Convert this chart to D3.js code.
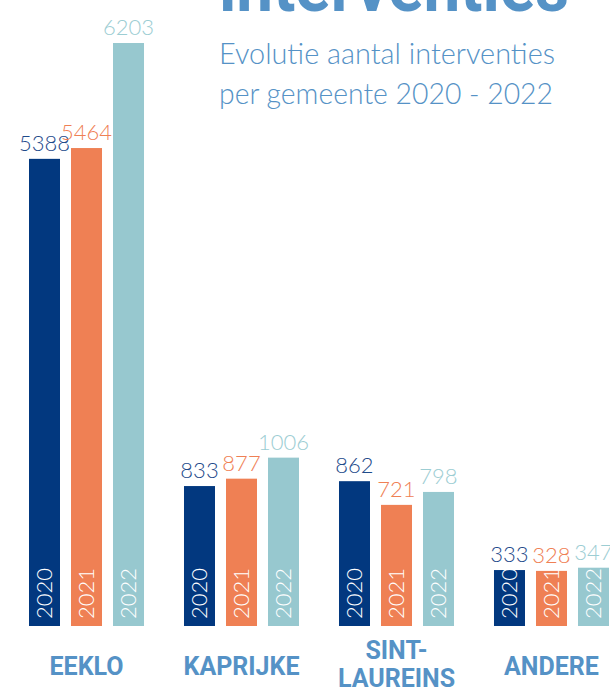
<!DOCTYPE html>
<html>
<head>
<meta charset="utf-8">
<script src="https://cdnjs.cloudflare.com/ajax/libs/d3/7.8.5/d3.min.js"></script>
<style>
  html, body { margin: 0; padding: 0; background: #ffffff; }
  svg { display: block; }
</style>
</head>
<body>
<div id="graph1"></div>
<script>
// evolutie interventies per gemeente, grouped bars
const graph_1_width = 610, graph_1_height = 690;

// data
const gemeenten = ["EEKLO", "KAPRIJKE", "SINT-LAUREINS", "ANDERE"];
const jaren = ["2020", "2021", "2022"];
const waarden2020 = [5388, 833, 862, 333];
const waarden2021 = [5464, 877, 721, 328];
const waarden2022 = [6203, 1006, 798, 347];

// label lines under each group (SINT-LAUREINS breaks in two)
const labelLijnen = [["EEKLO"], ["KAPRIJKE"], ["SINT-", "LAUREINS"], ["ANDERE"]];

const barColors = ["#02387f", "#ef8054", "#97c8cf"];
const valueColors = ["#1f4b8b", "#ef8054", "#9ccdd3"];
const blue = "#5592c6";

// build rows for d3
let data = gemeenten.map(function(g, i) {
    return {
        name: g,
        values: [waarden2020[i], waarden2021[i], waarden2022[i]]
    };
});

let svg = d3.select("#graph1")
    .append("svg")
    .attr("width", graph_1_width)
    .attr("height", graph_1_height);

// big title, cut off at the top of the picture
svg.append("text")
    .attr("x", 219)
    .attr("y", 11)
    .attr("textLength", 350)
    .attr("lengthAdjust", "spacingAndGlyphs")
    .style("font-family", "Roboto, sans-serif")
    .style("font-weight", 700)
    .style("font-size", "70px")
    .style("fill", blue)
    .text("interventies");

// subtitle
svg.append("text")
    .attr("x", 219)
    .attr("y", 64)
    .attr("textLength", 336)
    .attr("lengthAdjust", "spacingAndGlyphs")
    .style("font-family", "Lato, sans-serif")
    .style("font-weight", 300)
    .style("font-size", "29px")
    .style("fill", blue)
    .text("Evolutie aantal interventies");

svg.append("text")
    .attr("x", 219)
    .attr("y", 104)
    .attr("textLength", 334)
    .attr("lengthAdjust", "spacingAndGlyphs")
    .style("font-family", "Lato, sans-serif")
    .style("font-weight", 300)
    .style("font-size", "29px")
    .style("fill", blue)
    .text("per gemeente 2020 - 2022");

// x scale for groups and an inner one for the years
let x_axis = d3.scaleBand()
    .domain(gemeenten)
    .range([29, 609])
    .paddingInner(0.258);

let x_inner = d3.scaleBand()
    .domain(jaren)
    .range([0, x_axis.bandwidth()])
    .paddingInner(0.262);

// the original graphic is not drawn to one scale: small values get more room
let y_axis = d3.scaleLinear()
    .domain([0, 1000, 5000, 6203])
    .range([626, 458, 214, 43]);

let groups = svg.selectAll("g.groep")
    .data(data)
    .enter()
    .append("g")
    .attr("class", "groep")
    .attr("transform", function(d) { return `translate(${x_axis(d.name)}, 0)`; });

let cells = groups.selectAll("g.bar")
    .data(function(d) {
        return d.values.map(function(v, j) { return { jaar: jaren[j], value: v, idx: j }; });
    })
    .enter()
    .append("g")
    .attr("class", "bar");

// bars
cells.append("rect")
    .attr("x", function(d) { return x_inner(d.jaar); })
    .attr("y", function(d) { return y_axis(d.value); })
    .attr("width", x_inner.bandwidth())
    .attr("height", function(d) { return y_axis(0) - y_axis(d.value); })
    .attr("fill", function(d) { return barColors[d.idx]; });

// value on top of each bar
cells.append("text")
    .attr("x", function(d) { return x_inner(d.jaar) + x_inner.bandwidth() / 2; })
    .attr("y", function(d) { return y_axis(d.value) - 8; })
    .style("text-anchor", "middle")
    .style("font-family", "Lato, sans-serif")
    .style("font-weight", 300)
    .style("font-size", "22px")
    .style("fill", function(d) { return valueColors[d.idx]; })
    .text(function(d) { return d.value; });

// year written upwards inside the bar
cells.append("text")
    .attr("transform", function(d) {
        return `translate(${x_inner(d.jaar) + x_inner.bandwidth() / 2}, ${y_axis(0) - 7}) rotate(-90)`;
    })
    .attr("dy", "0.35em")
    .style("text-anchor", "start")
    .style("font-family", "Lato, sans-serif")
    .style("font-weight", 300)
    .style("font-size", "22px")
    .style("fill", "#ffffff")
    .text(function(d) { return d.jaar; });

// group names under the bars
groups.each(function(d, i) {
    let lines = labelLijnen[i];
    let startY = lines.length > 1 ? 659 : 675;
    let g = d3.select(this);
    lines.forEach(function(line, k) {
        g.append("text")
            .attr("x", x_axis.bandwidth() / 2)
            .attr("y", startY + k * 28)
            .style("text-anchor", "middle")
            .style("font-family", "Roboto, sans-serif")
            .style("font-weight", 700)
            .style("font-size", "25px")
            .style("fill", blue)
            .text(line);
    });
});
</script>
</body>
</html>
